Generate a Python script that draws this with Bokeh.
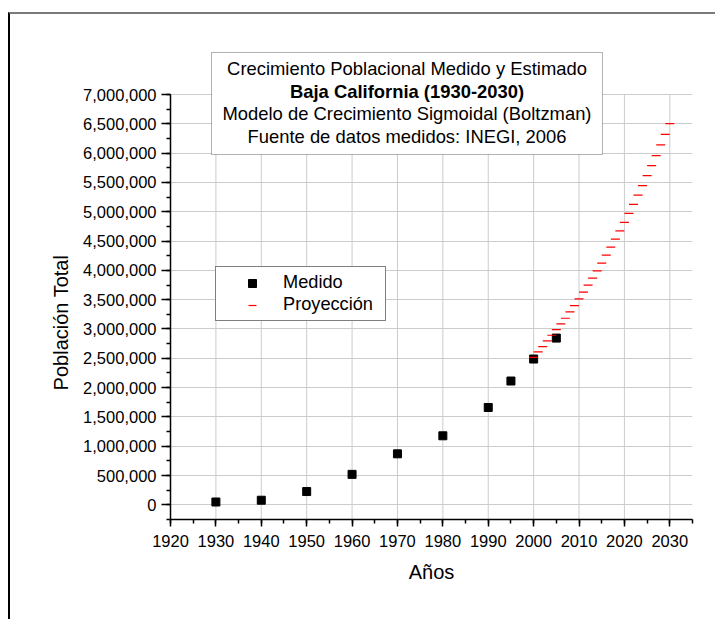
from bokeh.plotting import figure
from bokeh.models import (SingleIntervalTicker, NumeralTickFormatter, Label, Legend,
                          LegendItem, BoxAnnotation, ColumnDataSource)
from bokeh.embed import file_html
from bokeh.resources import INLINE

# ---- data ----
years_measured = [1930, 1940, 1950, 1960, 1970, 1980, 1990, 1995, 2000, 2005]
pop_measured = [48327, 78907, 226965, 520165, 870421, 1177886, 1660855, 2112140, 2487367, 2844469]

years_proj = [2000, 2001, 2002, 2003, 2004, 2005, 2006, 2007, 2008, 2009,
              2010, 2011, 2012, 2013, 2014, 2015, 2016, 2017, 2018, 2019,
              2020, 2021, 2022, 2023, 2024, 2025, 2026, 2027, 2028, 2029, 2030]
pop_proj = [2517000, 2608000, 2699000, 2796000, 2893000, 2990000, 3087000, 3183000,
            3292000, 3400000, 3514000, 3628000, 3747000, 3867000, 3992000, 4123000,
            4260000, 4396000, 4533000, 4675000, 4818000, 4972000, 5125000, 5285000,
            5444000, 5615000, 5786000, 5957000, 6139000, 6321000, 6503000]

x_grid_years = [1920, 1930, 1940, 1950, 1960, 1970, 1980, 1990, 2000, 2010, 2020, 2030]

title_lines = ["Crecimiento Poblacional Medido y Estimado",
               "Baja California (1930-2030)",
               "Modelo de Crecimiento Sigmoidal (Boltzman)",
               "Fuente de datos medidos: INEGI, 2006"]
title_weights = ["normal", "bold", "normal", "normal"]

y_label = "Población Total"
x_label = "Años"

FONT = "Liberation Sans"

# page layout (page pixels)
OX, OY = 10, 14            # canvas origin on the page (after margin + border)
W, H = 707, 607            # canvas size
FL, FR, FB = 170, 692, 519  # frame left / right / bottom (page px)
Y_AX_TOP = 94               # page y of 7,000,000
Y_MIN, Y_AX_MAX = -250000, 7000000
X_MIN, X_MAX = 1920, 2035

# frame extends up to the canvas top so that the title box is not clipped
per_px = (Y_AX_MAX - Y_MIN) / (FB - Y_AX_TOP)
y_top = Y_AX_MAX + (Y_AX_TOP - OY) * per_px

p = figure(width=W, height=H, x_range=(X_MIN, X_MAX), y_range=(Y_MIN, y_top),
           output_backend="svg", toolbar_location=None,
           min_border_left=FL - OX, min_border_top=0,
           min_border_right=W - (FR - OX), min_border_bottom=H - (FB - OY))
p.styles = {"margin-left": "8px", "margin-top": "12px",
            "border-left": "2px solid #000000", "border-top": "2px solid #7a7a7a"}
p.outline_line_color = None
p.background_fill_color = "white"
p.border_fill_color = "white"

def sx(px):
    return px - FL

def sy(py):
    return FB - py

# ---- axes ----
p.xaxis.ticker = SingleIntervalTicker(interval=10, num_minor_ticks=2)
p.yaxis.ticker = SingleIntervalTicker(interval=500000, num_minor_ticks=2)
p.yaxis.formatter = NumeralTickFormatter(format="0,0")
p.yaxis.bounds = (Y_MIN, Y_AX_MAX)

for ax in (p.xaxis[0], p.yaxis[0]):
    ax.axis_line_color = "black"
    ax.axis_line_width = 1.5
    ax.major_tick_line_color = "black"
    ax.minor_tick_line_color = "black"
    ax.major_tick_line_width = 1.5
    ax.minor_tick_line_width = 1.5
    ax.major_tick_in = 0
    ax.minor_tick_in = 0
    ax.minor_tick_out = 4
    ax.major_label_text_font = FONT
    ax.major_label_text_color = "black"
    ax.major_label_text_font_size = "16.5px"
    ax.axis_label_text_font = FONT
    ax.axis_label_text_font_size = "20px"
    ax.axis_label_text_font_style = "normal"
    ax.axis_label_text_color = "black"

p.xaxis.major_tick_out = 7
p.yaxis.major_tick_out = 9
p.xaxis.major_label_standoff = 8
p.yaxis.major_label_standoff = 5
p.xaxis.axis_label = x_label
# trailing no-break spaces move the centred label down to the middle of the axis line
p.yaxis.axis_label = y_label + "\u00a0" * 20
p.xaxis.axis_label_standoff = 11
p.yaxis.axis_label_standoff = 8

# grid: horizontal lines follow the y axis bounds; vertical ones drawn up to 7,000,000
p.xgrid.visible = False
p.ygrid.grid_line_color = "#cccccc"
p.segment(x0=x_grid_years, y0=[Y_MIN] * len(x_grid_years),
          x1=x_grid_years, y1=[Y_AX_MAX] * len(x_grid_years),
          line_color="#cccccc", line_width=1, level="underlay")

# ---- data marks ----
src_m = ColumnDataSource(dict(x=years_measured, y=pop_measured))
src_p = ColumnDataSource(dict(x=years_proj, y=pop_proj))
r_meas = p.scatter("x", "y", source=src_m, marker="square", size=8,
                   fill_color="black", line_color="black")
r_proj = p.scatter("x", "y", source=src_p, marker="dash", size=9,
                   line_color="#ff0000", line_width=1.2)

# ---- legend ----
legend = Legend(items=[LegendItem(label="Medido", renderers=[r_meas]),
                       LegendItem(label="Proyección", renderers=[r_proj])],
                location=(215 - FL, FB - 321),
                border_line_color="black", border_line_width=1,
                background_fill_color="white", background_fill_alpha=1.0,
                padding=5, spacing=1, glyph_width=62, glyph_height=20,
                label_standoff=-2, label_width=97, label_height=20,
                label_text_font=FONT, label_text_font_size="18.2px",
                label_text_color="black", margin=0)
p.add_layout(legend)

# ---- title box ----
p.add_layout(BoxAnnotation(left=sx(211), right=sx(602), top=sy(52), bottom=sy(154),
                           left_units="screen", right_units="screen",
                           top_units="screen", bottom_units="screen",
                           fill_color="white", fill_alpha=1.0,
                           line_color="black", line_width=1))
line_centers = [68.3, 91, 113.3, 136]
for txt, wt, cy in zip(title_lines, title_weights, line_centers):
    p.add_layout(Label(x=sx(406.5), y=sy(cy), x_units="screen", y_units="screen",
                       text=txt, text_align="center", text_baseline="middle",
                       text_font=FONT, text_font_size="18.4px",
                       text_font_style=wt, text_color="black"))

open("out.html", "w").write(file_html(p, INLINE))
